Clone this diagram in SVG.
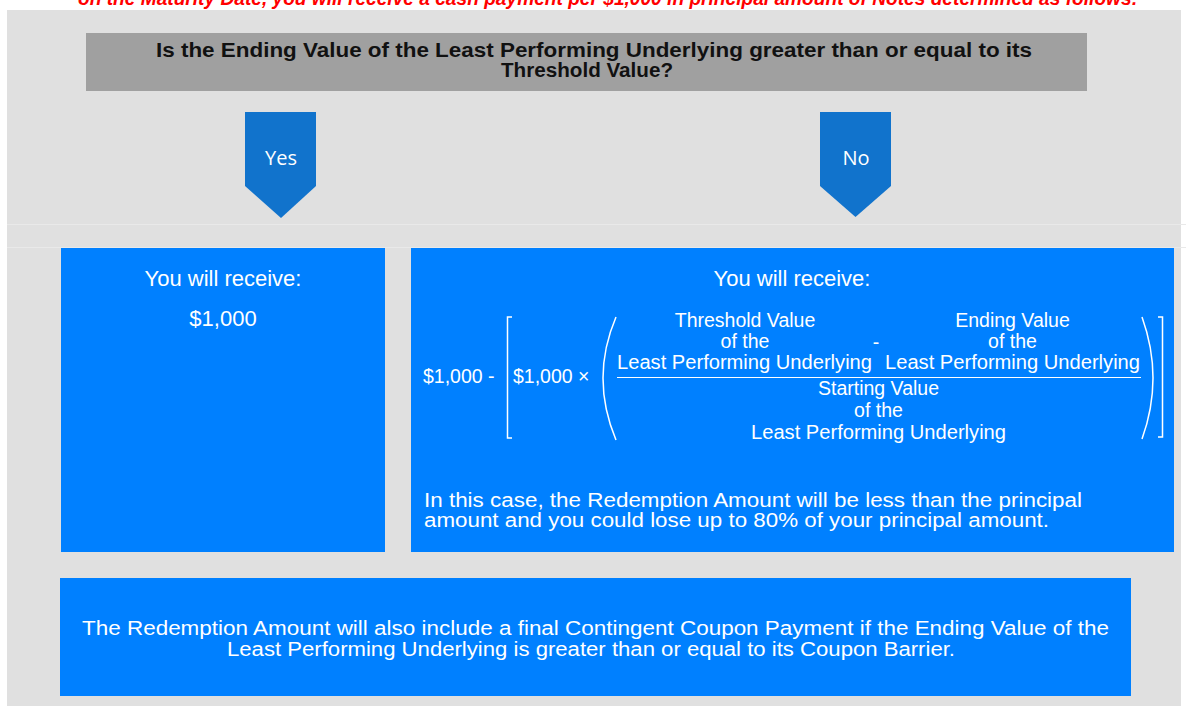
<svg xmlns="http://www.w3.org/2000/svg" width="1186" height="706" viewBox="0 0 1186 706">
<style>
.t{font-family:"Liberation Sans",Arial,sans-serif;fill:#ffffff;}
.hd{font-family:"Liberation Sans",Arial,sans-serif;font-weight:bold;font-size:19.5px;fill:#111111;}
.f{font-family:"Liberation Sans",Arial,sans-serif;font-size:19.5px;fill:#ffffff;text-anchor:middle;}
.yn{font-family:"Open Sans","Noto Sans",sans-serif;font-size:20px;fill:#ffffff;text-anchor:middle;}
.box{fill:#0080ff;}
.arr{fill:#1173cc;}
.ln{stroke:#ffffff;stroke-width:1.5;fill:none;}
</style>
<rect x="0" y="0" width="1186" height="706" fill="#ffffff"/>
<rect x="7" y="10" width="1174" height="696" fill="#e0e0e0"/>
<line x1="7" y1="224.5" x2="1186" y2="224.5" stroke="#e9e9e9" stroke-width="1"/>
<line x1="7" y1="247.5" x2="1186" y2="247.5" stroke="#e9e9e9" stroke-width="1"/>
<text x="608" y="5" text-anchor="middle" font-family="Liberation Sans, Arial, sans-serif" font-weight="bold" font-style="italic" font-size="20" fill="#ff0000" textLength="1060" lengthAdjust="spacingAndGlyphs">on the Maturity Date, you will receive a cash payment per $1,000 in principal amount of Notes determined as follows:</text>
<g id="question">
<rect x="86" y="33" width="1001" height="58" fill="#a0a0a0"/>
<text class="hd" x="156" y="57" textLength="876" lengthAdjust="spacingAndGlyphs">Is the Ending Value of the Least Performing Underlying greater than or equal to its</text>
<text class="hd" x="501" y="77" textLength="172" lengthAdjust="spacingAndGlyphs">Threshold Value?</text>
</g>
<g id="connectors">
<polygon class="arr" points="245,112 316,112 316,186 281,218 245,186"/>
<text class="yn" x="281" y="165">Yes</text>
<polygon class="arr" points="820,112 891,112 891,186 855.5,217 820,186"/>
<text class="yn" x="856" y="165">No</text>
</g>
<g id="yes-box">
<rect class="box" x="61" y="248" width="324" height="304"/>
<text class="t" x="223" y="286" font-size="22" text-anchor="middle">You will receive:</text>
<text class="t" x="223" y="326" font-size="22" text-anchor="middle">$1,000</text>
</g>
<g id="no-box">
<rect class="box" x="411" y="248" width="763" height="304"/>
<text class="t" x="792" y="286" font-size="22" text-anchor="middle">You will receive:</text>
<text class="t" x="423" y="383" font-size="19.5">$1,000 -</text>
<path class="ln" d="M512,317 H507.5 V438 H512"/>
<text class="t" x="513" y="383" font-size="19.5">$1,000 ×</text>
<path class="ln" d="M616,317 Q590,378 616,440"/>
<text class="f" x="745" y="327">Threshold Value</text>
<text class="f" x="745" y="348">of the</text>
<text class="f" x="744.5" y="369" textLength="255" lengthAdjust="spacingAndGlyphs">Least Performing Underlying</text>
<text class="f" x="876" y="349">-</text>
<text class="f" x="1012.5" y="327">Ending Value</text>
<text class="f" x="1012.5" y="348">of the</text>
<text class="f" x="1012.5" y="369" textLength="255" lengthAdjust="spacingAndGlyphs">Least Performing Underlying</text>
<line x1="617" y1="377.5" x2="1141" y2="377.5" stroke="#ffffff" stroke-width="1"/>
<text class="f" x="878.5" y="395">Starting Value</text>
<text class="f" x="878.5" y="417">of the</text>
<text class="f" x="878.5" y="439" textLength="255" lengthAdjust="spacingAndGlyphs">Least Performing Underlying</text>
<path class="ln" d="M1142,317 Q1164,378 1142,439"/>
<path class="ln" d="M1158,317 H1162.5 V437 H1158"/>
<text class="t" x="424" y="507" font-size="20" textLength="658" lengthAdjust="spacingAndGlyphs">In this case, the Redemption Amount will be less than the principal</text>
<text class="t" x="424" y="527" font-size="20" textLength="625" lengthAdjust="spacingAndGlyphs">amount and you could lose up to 80% of your principal amount.</text>
</g>
<g id="coupon-box">
<rect class="box" x="60" y="578" width="1071" height="118"/>
<text class="t" x="82" y="635" font-size="19.5" textLength="1027" lengthAdjust="spacingAndGlyphs">The Redemption Amount will also include a final Contingent Coupon Payment if the Ending Value of the</text>
<text class="t" x="227" y="656" font-size="19.5" textLength="728" lengthAdjust="spacingAndGlyphs">Least Performing Underlying is greater than or equal to its Coupon Barrier.</text>
</g>
</svg>
